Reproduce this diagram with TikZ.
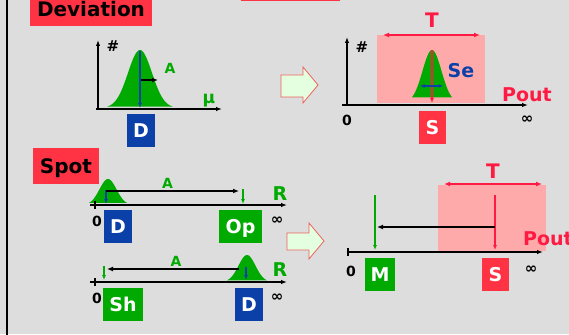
\documentclass[tikz,border=0pt]{standalone}
\usepackage{fontspec}
\setmainfont{DejaVu Sans}
\usetikzlibrary{arrows.meta}
\definecolor{bg}{HTML}{DDDDDD}
\definecolor{boxred}{HTML}{FF3344}
\definecolor{txtred}{HTML}{FF1A44}
\definecolor{gr}{HTML}{00AA00}
\definecolor{bl}{HTML}{0A40A8}
\definecolor{pinkbg}{HTML}{FFAAAA}
\definecolor{lgreen}{HTML}{E4FFE0}
\definecolor{arrline}{HTML}{F06060}
\newcommand\fsz[1]{\fontsize{#1}{#1}\selectfont\bfseries}
\begin{document}
\begin{tikzpicture}[x=1pt,y=-1pt,
  hdr/.style={fill=boxred,text=black,font=\fsz{20},inner sep=0pt,text height=14.6pt,text depth=0pt},
  tagbox/.style={text=white,font=\fsz{19},inner sep=0pt,text height=13.9pt,text depth=0pt},
  lbl/.style={anchor=base,inner sep=0pt},
  axis/.style={line width=1.2pt,-{Latex[length=6pt,width=4.5pt]}},
  tick/.style={line width=1.2pt},
  blackarr/.style={line width=2pt,-{Latex[length=6pt,width=5pt]}},
  thinarr/.style={line width=1.3pt,-{Latex[length=5pt,width=4pt]}},
  tarr/.style={line width=2pt,txtred,{Latex[length=6pt,width=5pt]}-{Latex[length=6pt,width=5pt]}},
  blockarr/.style={fill=lgreen,draw=arrline,line width=0.8pt,line join=miter},
  infty/.style={font=\fsz{15},inner sep=0pt}
]
\useasboundingbox (0,0) rectangle (569,334);
\fill[bg] (0,0) rectangle (569,334);
\draw[line width=2.5pt] (7,-2) -- (7,336);

% ---------------- Deviation ----------------
\node[hdr,minimum width=122pt,minimum height=34pt] (dev) at (91,9.2) {Deviation};
\fill[boxred] (241,-6) rectangle (340,1.2);

% top-left graph
\fill[gr] plot[domain=-33:33,samples=80] ({140+\x},{108-58*exp(-\x*\x/288)}) -- cycle;
\coordinate (ax1o) at (98,110); \coordinate (ax1y) at (98,40);
\coordinate (ax1s) at (96,109); \coordinate (ax1x) at (222,109);
\draw[axis] (ax1o) -- (ax1y);
\draw[axis] (ax1s) -- (ax1x);
\coordinate (b1t) at (140,51); \coordinate (b1b) at (140,108);
\draw[thinarr,bl] (b1t) -- (b1b);
\coordinate (a1s) at (141,80); \coordinate (a1e) at (158,80);
\draw[blackarr] (a1s) -- (a1e);
\node[lbl,font=\fsz{15}] (h1) at (113,52) {\#};
\node[lbl,font=\fsz{14},text=gr] (A1) at (170,74) {A};
\node[lbl,font=\fsz{17},text=gr] (mu) at (209,103) {μ};
\node[tagbox,fill=bl,minimum width=28pt,minimum height=32.5pt] (D1) at (141,130.3) {D};

% block arrow 1
\draw[blockarr] (281,75) -- (303,75) -- (303,67) -- (318,85) -- (303,103) -- (303,97) -- (281,97) -- cycle;

% top-right graph
\fill[pinkbg] (377,35) rectangle (485,103);
\fill[gr] plot[domain=-20:20,samples=80] ({432+\x},{103-53*exp(-\x*\x/180)}) -- cycle;
\coordinate (ax2o) at (347,106); \coordinate (ax2y) at (347,37);
\coordinate (ax2s) at (342,105); \coordinate (ax2x) at (528,105);
\draw[axis] (ax2o) -- (ax2y);
\draw[axis] (ax2s) -- (ax2x);
\coordinate (r1t) at (432,50); \coordinate (r1b) at (432,103);
\draw[thinarr,txtred] (r1t) -- (r1b);
\coordinate (se1) at (420,86); \coordinate (se2) at (443,86);
\draw[line width=1.3pt,bl,{Latex[length=4.5pt,width=4pt]}-{Latex[length=4.5pt,width=4pt]}] (se1) -- (se2);
\coordinate (t1a) at (383,35); \coordinate (t1b) at (480,35);
\draw[tarr] (t1a) -- (t1b);
\node[lbl,font=\fsz{20},text=txtred] (T1) at (432,28) {T};
\node[lbl,font=\fsz{15}] (h2) at (362,53) {\#};
\node[lbl,font=\fsz{19},text=bl] (Se) at (461,78) {Se};
\node[lbl,font=\fsz{19},text=txtred] (P1) at (527,101) {Pout};
\node[lbl,font=\fsz{14}] (z1) at (347,125) {0};
\node[infty] (i1) at (527,120) {∞};
\node[tagbox,fill=boxred,minimum width=27pt,minimum height=33pt] (S1) at (432.5,127.5) {S};

% ---------------- Spot ----------------
\node[hdr,minimum width=66pt,minimum height=36pt] (spot) at (66,166) {Spot};

% row 1
\fill[gr] plot[domain=-19:19,samples=80] ({108+\x},{205-26*exp(-\x*\x/144)}) -- cycle;
\coordinate (r1s) at (90,205); \coordinate (r1e) at (287,205);
\draw[axis] (r1s) -- (r1e);
\coordinate (tk1a) at (95,201); \coordinate (tk1b) at (95,209);
\draw[tick] (tk1a) -- (tk1b);
\coordinate (bl1t) at (106,190); \coordinate (bl1b) at (106,204);
\draw[thinarr,bl] (bl1t) -- (bl1b);
\coordinate (k1s) at (106,191); \coordinate (k1e) at (239,191);
\draw[blackarr] (k1s) -- (k1e);
\coordinate (g1t) at (243,189); \coordinate (g1b) at (243,204);
\draw[thinarr,gr] (g1t) -- (g1b);
\node[lbl,font=\fsz{14},text=gr] (A2) at (167.5,188) {A};
\node[lbl,font=\fsz{19},text=gr] (R1) at (280,200) {R};
\node[lbl,font=\fsz{14}] (z2) at (97,226) {0};
\node[infty] (i2) at (277,221) {∞};
\node[tagbox,fill=bl,minimum width=28pt,minimum height=33pt] (D2) at (118,226.5) {D};
\node[tagbox,fill=gr,minimum width=43pt,minimum height=33pt] (Op) at (240.5,226.5) {Op};

% row 2
\fill[gr] plot[domain=-20:20,samples=80] ({247+\x},{282-27*exp(-\x*\x/144)}) -- cycle;
\coordinate (r2s) at (90,282); \coordinate (r2e) at (287,282);
\draw[axis] (r2s) -- (r2e);
\coordinate (tk2a) at (95,278); \coordinate (tk2b) at (95,286);
\draw[tick] (tk2a) -- (tk2b);
\coordinate (g2t) at (104,266); \coordinate (g2b) at (104,280);
\draw[thinarr,gr] (g2t) -- (g2b);
\coordinate (k2s) at (239,269); \coordinate (k2e) at (107,269);
\draw[blackarr] (k2s) -- (k2e);
\coordinate (bl2t) at (246,267); \coordinate (bl2b) at (246,280);
\draw[thinarr,bl] (bl2t) -- (bl2b);
\node[lbl,font=\fsz{14},text=gr] (A3) at (176,266) {A};
\node[lbl,font=\fsz{19},text=gr] (R2) at (280,276) {R};
\node[lbl,font=\fsz{14}] (z3) at (97,303) {0};
\node[infty] (i3) at (277,298) {∞};
\node[tagbox,fill=gr,minimum width=40pt,minimum height=33pt] (Sh) at (123,304.5) {Sh};
\node[tagbox,fill=bl,minimum width=28pt,minimum height=33pt] (D3) at (249,304.5) {D};

% block arrow 2
\draw[blockarr] (287,233) -- (309,233) -- (309,223) -- (324,241) -- (309,259) -- (309,250) -- (287,250) -- cycle;

% bottom-right graph
\fill[pinkbg] (438,185) rectangle (546,251);
\coordinate (r3s) at (347,252); \coordinate (r3e) at (543,252);
\draw[axis] (r3s) -- (r3e);
\coordinate (tk3a) at (348,248); \coordinate (tk3b) at (348,256);
\draw[tick] (tk3a) -- (tk3b);
\coordinate (t2a) at (444,184); \coordinate (t2b) at (542,184);
\draw[tarr] (t2a) -- (t2b);
\coordinate (rr2t) at (495,195); \coordinate (rr2b) at (495,250);
\draw[thinarr,txtred] (rr2t) -- (rr2b);
\coordinate (g3t) at (375,195); \coordinate (g3b) at (375,250);
\draw[thinarr,gr] (g3t) -- (g3b);
\coordinate (k3s) at (495,227); \coordinate (k3e) at (377,227);
\draw[blackarr] (k3s) -- (k3e);
\node[lbl,font=\fsz{20},text=txtred] (T2) at (493,178) {T};
\node[lbl,anchor=base west,font=\fsz{19},text=txtred] (P2) at (523,245) {Pout};
\node[lbl,font=\fsz{14}] (z4) at (351,276) {0};
\node[infty] (i4) at (531,270) {∞};
\node[tagbox,fill=gr,minimum width=30pt,minimum height=33pt] (M) at (380,274.5) {M};
\node[tagbox,fill=boxred,minimum width=27pt,minimum height=33pt] (S2) at (495.5,274.5) {S};
\end{tikzpicture}
\end{document}
